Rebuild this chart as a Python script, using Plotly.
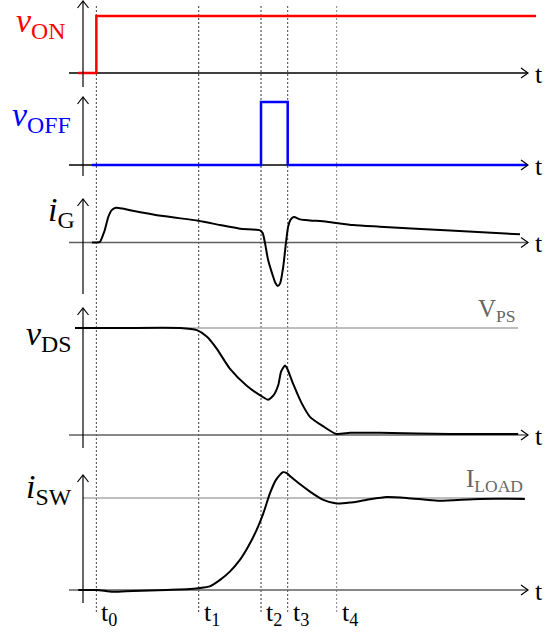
import plotly.graph_objects as go

W, H = 559, 632
T0_PX = 83      # pixel column of the vertical axes
T_PX = 4.45     # pixels per time unit

# switching instants
t_marks = [3, 26, 40, 46, 57]
t_names = ["t<sub>0</sub>", "t<sub>1</sub>", "t<sub>2</sub>", "t<sub>3</sub>", "t<sub>4</sub>"]
t_colors = ["#444", "#333", "#333", "#444", "#888"]

# gate drive signals
von_t = [-1.1, 3, 3, 101.8]
von_v = [0, 0, 1, 1]
voff_t = [2, 40, 40, 46, 46, 99.8]
voff_v = [0, 0, 1, 1, 0, 0]

# gate current
ig_t = [2.0, 3.0, 3.8, 4.5, 4.9, 5.7, 6.45, 7.4, 8.8, 10.6, 18.0, 25.9, 30.8, 35.3, 39.8,
        40.4, 40.9, 41.6, 42.6, 43.25, 43.75, 44.3, 45.0, 45.6, 46.1, 46.7, 47.4, 48.8,
        51.0, 54.8, 60.7, 66.7, 82.5, 98.2]
ig_v = [0, 0, 0.02, 0.23, 0.38, 0.78, 0.98, 1.05, 1.03, 0.98, 0.80, 0.66, 0.53, 0.42, 0.37,
        0.28, -0.02, -0.53, -0.98, -1.23, -1.32, -1.24, -0.73, -0.02, 0.48, 0.70, 0.77, 0.70,
        0.67, 0.63, 0.53, 0.48, 0.36, 0.25]

# drain-source voltage (1 = V_PS)
vds_t = [-1.8, 8.3, 21.8, 25.6, 27.8, 30.0, 33.0, 36.8, 40.2, 41.6, 42.8, 43.9, 44.5, 45.4,
         45.9, 47.3, 49.1, 51.0, 54.0, 56.9, 60.0, 63.8, 66.7, 82.5, 97.8]
vds_v = [1.0, 1.0, 1.0, 0.98, 0.92, 0.81, 0.62, 0.46, 0.36, 0.33, 0.37, 0.47, 0.59, 0.65,
         0.62, 0.47, 0.30, 0.17, 0.08, 0.01, 0.02, 0.02, 0.02, 0.01, 0.01]

# switch current (1 = I_LOAD)
isw_t = [-1.06, 3.1, 6.7, 11.2, 18.8, 24.0, 25.9, 28.5, 30.8, 33.0, 35.3, 37.1, 39.0, 40.5,
         42.0, 43.4, 44.9, 45.8, 46.7, 48.5, 51.0, 54.0, 57.0, 60.0, 63.8, 68.2, 72.7, 77.2,
         80.2, 89.2, 99.3]
isw_v = [0, 0, -0.02, -0.01, 0, 0.01, 0.02, 0.04, 0.11, 0.20, 0.33, 0.47, 0.65, 0.83,
         1.05, 1.20, 1.28, 1.27, 1.23, 1.16, 1.07, 0.98, 0.94, 0.95, 0.98, 1.01, 1.00, 0.98,
         0.97, 0.99, 0.99]

# panel geometry in pixels: baseline, unit height, band top/bottom, axis tip/bottom
panels = [
    dict(base=73, unit=57, band=(0, 92), axis=(1, 87), label="<i>v</i><sub>ON</sub>",
         color="#ff0000", lab_y=23, lab_x=67, hcol="black"),
    dict(base=165, unit=63, band=(92, 185), axis=(97, 176), label="<i>v</i><sub>OFF</sub>",
         color="#0000ff", lab_y=117, lab_x=73, hcol="black"),
    dict(base=242.5, unit=33, band=(185, 300), axis=(199, 294), label="<i>i</i><sub>G</sub>",
         color="black", lab_y=212, lab_x=77, hcol="#606060"),
    dict(base=435, unit=107, band=(300, 455), axis=(308, 448), label="<i>v</i><sub>DS</sub>",
         color="black", lab_y=336, lab_x=74, hcol="#606060"),
    dict(base=590, unit=92, band=(455, 632), axis=(475, 603), label="<i>i</i><sub>SW</sub>",
         color="black", lab_y=489, lab_x=74, hcol="#606060"),
]
series = [(von_t, von_v, "#ff0000", 2.5, "linear"),
          (voff_t, voff_v, "#0000ff", 2.5, "linear"),
          (ig_t, ig_v, "black", 2, "spline"),
          (vds_t, vds_v, "black", 2, "spline"),
          (isw_t, isw_v, "black", 2, "spline")]

FONT = "Liberation Serif"


def pval(p, py):
    return (p["base"] - py) / p["unit"]


def ypaper(py):
    return 1 - py / H


fig = go.Figure()
shapes = []
annotations = []
layout = {}

for i, (p, s) in enumerate(zip(panels, series)):
    yname = "y" if i == 0 else "y%d" % (i + 1)
    lname = "yaxis" if i == 0 else "yaxis%d" % (i + 1)
    top, bot = p["band"]
    layout[lname] = dict(domain=[ypaper(bot), ypaper(top)],
                         range=[pval(p, bot), pval(p, top)],
                         visible=False, fixedrange=True, anchor="x")

    # horizontal time axis with open arrow head
    shapes.append(dict(type="line", xref="x", yref=yname, x0=-3.15, x1=100, y0=0, y1=0,
                       line=dict(color=p["hcol"], width=1.5), layer="below"))
    shapes.append(dict(type="path", xref="x", yref=yname, xsizemode="pixel", ysizemode="pixel",
                       xanchor=100, yanchor=0, path="M-7,-5 L0,0 L-7,5",
                       line=dict(color="black", width=1.2)))
    # vertical axis with open arrow head
    a_tip, a_bot = p["axis"]
    shapes.append(dict(type="line", xref="x", yref=yname, x0=0, x1=0,
                       y0=pval(p, a_bot), y1=pval(p, a_tip),
                       line=dict(color="black", width=1.2)))
    shapes.append(dict(type="path", xref="x", yref=yname, xsizemode="pixel", ysizemode="pixel",
                       xanchor=0, yanchor=pval(p, a_tip), path="M-5.5,-7 L0,0 L5.5,-7",
                       line=dict(color="black", width=1.2)))

    annotations.append(dict(x=100, y=0, xref="x", yref=yname, text="t", showarrow=False,
                            xanchor="left", xshift=5, yshift=-1,
                            font=dict(family=FONT, size=26, color="black")))
    annotations.append(dict(x=p["lab_x"] / W, y=ypaper(p["lab_y"]), xref="paper", yref="paper",
                            text=p["label"], showarrow=False, xanchor="right", yanchor="middle",
                            font=dict(family=FONT, size=34, color=p["color"])))

    fig.add_trace(go.Scatter(x=s[0], y=s[1], yaxis=yname, mode="lines", hoverinfo="skip",
                             line=dict(color=s[2], width=s[3], shape=s[4], smoothing=0.6)))

# reference levels
shapes.append(dict(type="line", xref="x", yref="y4", x0=0, x1=97.8, y0=1, y1=1,
                   line=dict(color="#a8a8a8", width=1.5), layer="below"))
shapes.append(dict(type="line", xref="x", yref="y5", x0=0, x1=99.3, y0=1, y1=1,
                   line=dict(color="#a8a8a8", width=1.5), layer="below"))
annotations.append(dict(x=97.8, y=1, xref="x", yref="y4", text="V<sub>PS</sub>", showarrow=False,
                        xanchor="right", yanchor="bottom", yshift=0,
                        font=dict(family=FONT, size=25, color="#666666")))
annotations.append(dict(x=99.3, y=1, xref="x", yref="y5", text="I<sub>LOAD</sub>", showarrow=False,
                        xanchor="right", yanchor="bottom", yshift=0,
                        font=dict(family=FONT, size=25, color="#666666")))

# switching instants
for tm, tn, tc in zip(t_marks, t_names, t_colors):
    shapes.append(dict(type="line", xref="x", yref="paper", x0=tm, x1=tm,
                       y0=ypaper(612), y1=ypaper(5), layer="below",
                       line=dict(color=tc, width=1, dash="2px,2px")))
    annotations.append(dict(x=tm, y=ypaper(614), xref="x", yref="paper", text=tn,
                            showarrow=False, xanchor="left", yanchor="middle", xshift=3,
                            font=dict(family=FONT, size=26, color="black")))

fig.update_layout(
    width=W, height=H,
    margin=dict(l=0, r=0, t=0, b=0),
    paper_bgcolor="white", plot_bgcolor="white",
    showlegend=False,
    xaxis=dict(domain=[0, 1], range=[-T0_PX / T_PX, (W - T0_PX) / T_PX],
               visible=False, fixedrange=True),
    shapes=shapes, annotations=annotations,
    **layout,
)

# the page body has a default 8px margin; drop it so the figure sits at the corner
fig.write_html("out.html", config={"displayModeBar": False},
               post_script="document.body.style.margin='0';")
